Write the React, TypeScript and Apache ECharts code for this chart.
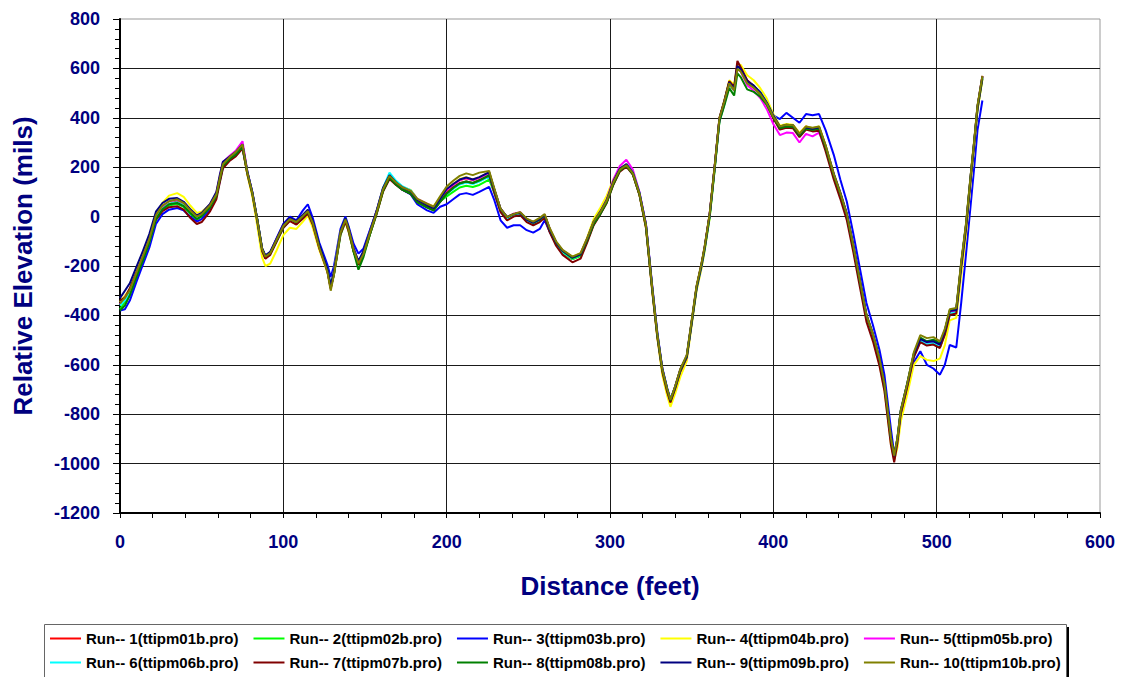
import React, { useEffect, useRef } from "react";
import * as echarts from "echarts";

const distances = [
  0, 3, 6, 10, 14, 18, 22, 26, 30, 35,
  39, 43, 47, 50, 55, 59, 61, 63, 67, 71,
  75, 78, 81, 84, 87, 89, 92, 96, 100, 104,
  108, 112, 115, 118, 122, 127, 129, 131, 135, 138,
  140, 143, 146, 149, 153, 157, 161, 165, 169, 173,
  178, 182, 188, 192, 196, 200, 204, 208, 212, 216,
  220, 226, 229, 233, 237, 241, 245, 249, 253, 257,
  260, 263, 267, 271, 277, 282, 286, 290, 294, 298,
  302, 306, 310, 314, 318, 322, 326, 329, 332, 335,
  337, 340, 343, 347, 350, 353, 356, 358, 361, 364,
  367, 370, 373, 376, 378, 380, 384, 388, 392, 396,
  400, 404, 408, 412, 416, 420, 424, 428, 432, 437,
  441, 445, 449, 453, 457, 461, 465, 468, 470, 472,
  474, 476, 478, 482, 486, 490, 494, 498, 502, 505,
  508, 512, 515, 518, 521, 523, 525, 528,
];

const run01 = [
  -345, -335, -300, -240, -165, -95, 0, 38, 50, 62,
  44, 15, -10, 8, 45, 92, 155, 215, 240, 258,
  290, 170, 90, -20, -140, -170, -145, -90, -35, -15,
  -30, 5, 22, -30, -125, -220, -290, -225, -65, -10,
  -50, -140, -195, -145, -65, 18, 112, 165, 132, 118,
  98, 65, 44, 38, 72, 105, 128, 148, 155, 148,
  158, 178, 112, 25, -10, 5, 10, -18, -30, -10,
  5, -50, -112, -148, -172, -158, -92, -22, 18, 65,
  140, 192, 212, 172, 90, -40, -305, -485, -615, -705,
  -748, -685, -620, -565, -425, -285, -195, -125, 8, 195,
  395, 465, 545, 520, 615, 600, 550, 525, 495, 455,
  400, 360, 372, 365, 335, 365, 350, 362, 280, 165,
  90, 5, -125, -265, -405, -485, -585, -685, -795, -905,
  -980, -905, -795, -685, -565, -505, -510, -505, -520, -465,
  -385, -380, -195, -35, 175, 305, 445, 570,
];

const run02 = [
  -375, -345, -320, -250, -180, -110, -15, 25, 45, 52,
  40, 12, -12, 0, 35, 82, 145, 205, 232, 250,
  280, 172, 92, -10, -132, -160, -148, -98, -45, -15,
  -30, -5, 15, -30, -125, -218, -282, -235, -75, -20,
  -60, -140, -195, -155, -72, 10, 102, 158, 132, 110,
  96, 62, 40, 28, 62, 82, 100, 118, 125, 120,
  128, 150, 100, 22, -12, 2, 8, -18, -32, -18,
  0, -58, -112, -146, -172, -160, -100, -32, 10, 58,
  130, 185, 205, 172, 90, -38, -302, -482, -622, -705,
  -752, -695, -630, -572, -435, -295, -205, -135, -5, 185,
  385, 455, 535, 510, 600, 590, 540, 522, 495, 455,
  400, 355, 362, 362, 325, 355, 350, 355, 280, 165,
  92, 5, -125, -262, -402, -482, -582, -682, -792, -902,
  -978, -902, -792, -682, -562, -505, -520, -515, -530, -475,
  -395, -390, -205, -45, 165, 295, 435, 558,
];

const run03 = [
  -380, -375, -340, -265, -195, -125, -30, 10, 28, 35,
  25, 0, -20, -10, 30, 80, 140, 200, 228, 248,
  280, 180, 100, -10, -130, -158, -145, -85, -30, 0,
  -15, 25, 50, -5, -105, -195, -245, -200, -50, 0,
  -40, -110, -150, -130, -55, 20, 110, 165, 130, 108,
  90, 50, 25, 15, 40, 50, 70, 90, 95, 88,
  100, 120, 70, -15, -45, -35, -35, -55, -65, -50,
  -15, -60, -110, -140, -165, -150, -90, -30, 15, 60,
  138, 190, 210, 178, 98, -30, -290, -470, -612, -695,
  -740, -688, -622, -565, -428, -288, -198, -125, 5, 195,
  392, 462, 542, 512, 600, 590, 540, 528, 505, 462,
  410, 395, 420, 400, 380, 415, 410, 415, 350, 250,
  150, 60, -70, -210, -350, -440, -540, -640, -750, -860,
  -960, -910, -810, -700, -590, -545, -600, -615, -640, -600,
  -520, -530, -350, -150, 60, 200, 350, 470,
];

const run04 = [
  -345, -320, -295, -225, -160, -88, 8, 55, 85, 95,
  80, 45, 15, 20, 48, 92, 152, 210, 238, 256,
  282, 168, 82, -35, -165, -200, -190, -135, -75, -45,
  -50, -20, 5, -45, -135, -225, -280, -220, -60, -20,
  -62, -140, -192, -150, -65, 12, 105, 160, 138, 120,
  108, 72, 52, 42, 78, 110, 132, 152, 160, 150,
  160, 178, 110, 30, -2, 12, 18, -10, -22, -10,
  8, -48, -105, -138, -162, -148, -85, -10, 35, 85,
  150, 195, 212, 178, 92, -45, -310, -492, -640, -725,
  -770, -715, -650, -585, -440, -300, -210, -135, -5, 188,
  392, 468, 552, 535, 612, 615, 572, 552, 520, 478,
  415, 368, 375, 372, 340, 365, 358, 365, 290, 172,
  92, 2, -130, -272, -412, -492, -598, -700, -812, -920,
  -985, -935, -830, -720, -600, -565, -580, -585, -575, -520,
  -420, -410, -240, -70, 150, 285, 430, 555,
];

const run05 = [
  -355, -325, -298, -228, -162, -92, 2, 42, 62, 68,
  55, 28, 2, 12, 48, 96, 158, 220, 245, 268,
  305, 182, 98, -12, -132, -162, -148, -90, -35, -8,
  -22, 2, 22, -25, -125, -222, -292, -232, -65, -12,
  -50, -130, -185, -148, -64, 18, 112, 168, 140, 120,
  105, 72, 52, 38, 74, 108, 128, 148, 156, 148,
  158, 176, 112, 32, -2, 12, 18, -10, -22, -8,
  8, -48, -104, -138, -165, -150, -90, -22, 18, 68,
  148, 205, 230, 190, 100, -30, -295, -478, -618, -700,
  -748, -692, -628, -572, -432, -292, -202, -128, 5, 195,
  395, 462, 540, 512, 598, 588, 532, 510, 480, 435,
  375, 330, 340, 338, 300, 335, 325, 340, 275, 168,
  92, 8, -122, -262, -402, -482, -582, -682, -792, -902,
  -978, -902, -792, -682, -562, -498, -512, -508, -520, -465,
  -385, -380, -195, -35, 172, 302, 442, 568,
];

const run06 = [
  -360, -338, -310, -238, -172, -102, -8, 32, 52, 58,
  45, 18, -8, 4, 38, 86, 150, 212, 238, 258,
  288, 178, 96, -15, -138, -168, -152, -96, -42, -12,
  -28, -2, 18, -28, -120, -212, -282, -228, -66, -15,
  -55, -136, -188, -148, -66, 16, 115, 178, 145, 122,
  106, 70, 48, 36, 68, 92, 112, 130, 138, 132,
  142, 162, 102, 24, -10, 4, 10, -16, -28, -14,
  2, -56, -110, -144, -170, -156, -96, -28, 14, 62,
  136, 190, 212, 178, 96, -36, -300, -480, -618, -698,
  -742, -688, -624, -568, -428, -288, -198, -128, 2, 192,
  392, 462, 542, 516, 606, 596, 546, 530, 502, 462,
  408, 360, 366, 366, 330, 358, 354, 358, 282, 168,
  92, 8, -122, -262, -402, -482, -582, -682, -792, -902,
  -975, -902, -792, -682, -562, -502, -518, -512, -528, -472,
  -392, -388, -202, -42, 168, 298, 438, 562,
];

const run07 = [
  -340, -328, -290, -228, -168, -100, -12, 22, 38, 42,
  28, -5, -30, -22, 20, 70, 135, 195, 225, 245,
  275, 172, 92, -18, -140, -170, -155, -100, -45, -18,
  -32, -8, 12, -32, -128, -220, -288, -232, -72, -20,
  -60, -140, -195, -155, -72, 8, 100, 152, 128, 108,
  92, 60, 38, 26, 60, 95, 118, 136, 142, 136,
  148, 166, 100, 18, -15, 0, 6, -22, -35, -22,
  -5, -62, -118, -155, -185, -170, -105, -35, 8, 55,
  128, 182, 202, 170, 88, -45, -310, -490, -628, -710,
  -752, -695, -628, -570, -428, -285, -192, -120, 10, 200,
  400, 470, 548, 525, 630, 605, 552, 530, 500, 458,
  398, 352, 360, 358, 322, 352, 345, 348, 265, 150,
  72, -15, -145, -285, -425, -505, -605, -705, -815, -925,
  -995, -915, -800, -690, -570, -508, -522, -518, -532, -478,
  -398, -392, -208, -48, 165, 295, 435, 560,
];

const run08 = [
  -380, -360, -318, -245, -178, -105, -10, 30, 50, 55,
  42, 15, -10, 2, 36, 84, 148, 206, 232, 252,
  282, 178, 96, -10, -130, -160, -148, -94, -38, -8,
  -22, 2, 20, -22, -118, -218, -290, -232, -64, -8,
  -48, -142, -215, -165, -72, 12, 104, 158, 130, 108,
  92, 58, 36, 24, 60, 92, 116, 134, 142, 136,
  146, 168, 112, 30, -2, 10, 16, -10, -25, -12,
  5, -50, -105, -140, -168, -155, -96, -30, 10, 58,
  132, 186, 206, 172, 92, -38, -302, -482, -620, -700,
  -745, -690, -624, -568, -430, -290, -200, -128, 0, 188,
  385, 450, 520, 490, 580, 565, 515, 505, 485, 452,
  402, 358, 365, 364, 328, 356, 352, 356, 280, 168,
  92, 8, -122, -262, -400, -478, -576, -676, -785, -895,
  -968, -895, -785, -675, -555, -490, -505, -498, -512, -460,
  -380, -372, -190, -30, 178, 305, 445, 565,
];

const run09 = [
  -330, -300, -270, -205, -140, -70, 20, 55, 72, 75,
  60, 30, 5, 15, 50, 100, 165, 222, 242, 262,
  292, 182, 100, -8, -128, -158, -142, -88, -32, -5,
  -18, 8, 28, -18, -115, -210, -280, -222, -60, -8,
  -46, -128, -180, -140, -60, 22, 116, 168, 138, 118,
  102, 68, 46, 34, 72, 112, 132, 150, 158, 150,
  160, 180, 115, 32, -2, 10, 16, -12, -24, -10,
  6, -50, -104, -138, -165, -152, -90, -20, 20, 68,
  142, 194, 212, 178, 96, -32, -296, -476, -616, -696,
  -742, -686, -620, -564, -424, -285, -195, -124, 6, 196,
  396, 466, 544, 518, 610, 598, 548, 530, 502, 462,
  410, 365, 372, 370, 334, 362, 356, 362, 288, 174,
  98, 12, -116, -256, -396, -476, -576, -676, -786, -896,
  -970, -896, -786, -676, -556, -496, -508, -505, -518, -462,
  -382, -378, -192, -32, 176, 306, 446, 568,
];

const run10 = [
  -352, -328, -298, -228, -160, -90, 5, 45, 62, 70,
  55, 25, 0, 10, 45, 90, 152, 212, 240, 262,
  292, 178, 96, -12, -132, -162, -148, -92, -38, -10,
  -22, 3, 22, -25, -125, -225, -300, -235, -65, -12,
  -52, -132, -190, -152, -66, 15, 110, 165, 138, 118,
  104, 72, 52, 40, 82, 122, 145, 165, 175, 168,
  178, 185, 118, 32, -2, 10, 18, -8, -20, -5,
  10, -45, -100, -135, -162, -148, -88, -20, 18, 65,
  138, 190, 208, 175, 94, -34, -298, -478, -618, -698,
  -742, -685, -618, -560, -420, -280, -190, -120, 10, 198,
  398, 466, 540, 512, 598, 588, 540, 522, 496, 458,
  404, 365, 372, 370, 335, 365, 360, 365, 288, 172,
  96, 10, -118, -258, -398, -476, -576, -676, -786, -896,
  -968, -895, -786, -676, -550, -480, -492, -488, -505, -455,
  -375, -370, -185, -25, 180, 310, 450, 570,
];

const runValues = [run01, run02, run03, run04, run05, run06, run07, run08, run09, run10];

const runNames = [
  "Run-- 1(ttipm01b.pro)",
  "Run-- 2(ttipm02b.pro)",
  "Run-- 3(ttipm03b.pro)",
  "Run-- 4(ttipm04b.pro)",
  "Run-- 5(ttipm05b.pro)",
  "Run-- 6(ttipm06b.pro)",
  "Run-- 7(ttipm07b.pro)",
  "Run-- 8(ttipm08b.pro)",
  "Run-- 9(ttipm09b.pro)",
  "Run-- 10(ttipm10b.pro)",
];

const runColors = [
  "#FF0000", "#00FF00", "#0000FF", "#FFFF00", "#FF00FF",
  "#00FFFF", "#800000", "#008000", "#000080", "#808000",
];

const xTitle = "Distance (feet)";
const yTitle = "Relative Elevation (mils)";

const FONT = "'Liberation Sans', Arial, sans-serif";
const NAVY = "#000080";

export default function App() {
  const ref = useRef<HTMLDivElement>(null);

  useEffect(() => {
    if (!ref.current) return;
    const chart = echarts.init(ref.current, undefined, { renderer: "svg" });

    const series = runValues.map((vals, k) => ({
      name: runNames[k],
      type: "line",
      data: distances.map((d, i) => [d, vals[i]]),
      symbol: "none",
      showSymbol: false,
      lineStyle: { color: runColors[k], width: 2 },
      itemStyle: { color: runColors[k] },
      z: 3 + k,
    }));

    const legendText = {
      fontSize: 15,
      fontWeight: "bold",
      color: "#000",
      fontFamily: FONT,
      width: 162,
    };

    const legendBase = {
      left: 50,
      padding: 0,
      orient: "horizontal",
      icon: "rect",
      itemWidth: 31,
      itemHeight: 2,
      selectedMode: false,
      textStyle: legendText,
    };

    const plainNumber = (v: number) => String(v);

    chart.setOption({
      animation: false,
      backgroundColor: "#fff",
      grid: {
        left: 120,
        right: 22,
        top: 19,
        bottom: 164,
        show: true,
        borderColor: "#999",
        borderWidth: 1,
        backgroundColor: "#fff",
      },
      xAxis: {
        type: "value",
        min: 0,
        max: 600,
        interval: 100,
        name: xTitle,
        nameLocation: "middle",
        nameGap: 60,
        nameTextStyle: { fontSize: 26, fontWeight: "bold", color: NAVY, fontFamily: FONT },
        axisLine: { show: true, onZero: false, lineStyle: { color: "#000", width: 2 } },
        axisTick: { show: true, length: 5, lineStyle: { color: "#000" } },
        minorTick: { show: true, splitNumber: 5, length: 5, lineStyle: { color: "#000" } },
        axisLabel: {
          fontSize: 18,
          fontWeight: "bold",
          color: NAVY,
          fontFamily: FONT,
          margin: 20,
          formatter: plainNumber,
        },
        splitLine: {
          show: true,
          showMinLine: false,
          showMaxLine: false,
          lineStyle: { color: "#1a1a1a", width: 1 },
        },
      },
      yAxis: {
        type: "value",
        min: -1200,
        max: 800,
        interval: 200,
        name: yTitle,
        nameLocation: "middle",
        nameGap: 84,
        nameTextStyle: { fontSize: 26, fontWeight: "bold", color: NAVY, fontFamily: FONT },
        axisLine: { show: true, onZero: false, lineStyle: { color: "#000", width: 2 } },
        axisTick: { show: true, length: 7, lineStyle: { color: "#000" } },
        minorTick: { show: true, splitNumber: 5, length: 5, lineStyle: { color: "#000" } },
        axisLabel: {
          fontSize: 18,
          fontWeight: "bold",
          color: NAVY,
          fontFamily: FONT,
          margin: 20,
          formatter: plainNumber,
        },
        splitLine: {
          show: true,
          showMinLine: false,
          showMaxLine: false,
          lineStyle: { color: "#1a1a1a", width: 1 },
        },
      },
      legend: [
        { ...legendBase, data: runNames.slice(0, 5), top: 631, itemGap: 15 },
        { ...legendBase, data: runNames.slice(5), top: 655, itemGap: 15 },
      ],
      graphic: [
        {
          type: "rect",
          z: 0,
          shape: { x: 1066, y: 627, width: 3, height: 60 },
          style: { fill: "#000" },
        },
        {
          type: "rect",
          z: 1,
          shape: { x: 44.5, y: 624.5, width: 1022, height: 70 },
          style: { fill: "#fff", stroke: "#666", lineWidth: 1 },
        },
      ],
      series,
    });

    return () => {
      chart.dispose();
    };
  }, []);

  return (
    <div
      ref={ref}
      style={{ position: "fixed", left: 0, top: 0, width: 1122, height: 677, background: "#fff" }}
    />
  );
}
